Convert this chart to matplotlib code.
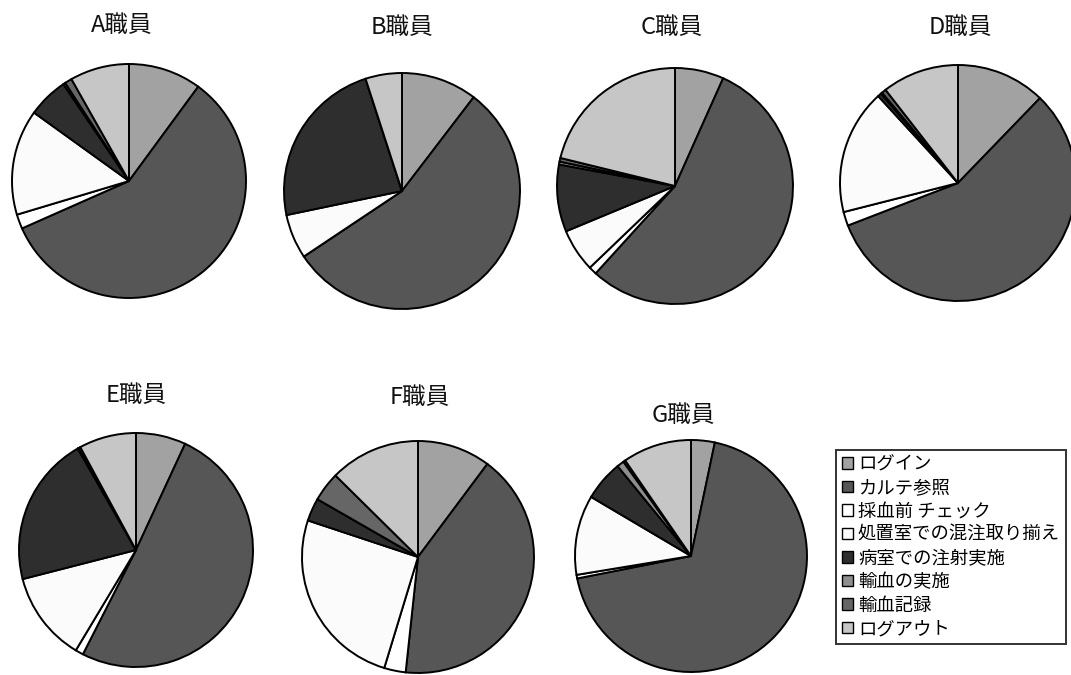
import matplotlib
matplotlib.use("Agg")
import matplotlib.pyplot as plt
from matplotlib.patches import Patch

plt.rcParams['font.family'] = ['Noto Sans CJK JP', 'DejaVu Sans']

# Work steps (legend order = slice order, clockwise from 12 o'clock)
steps = ['ログイン', 'カルテ参照', '採血前 チェック', '処置室での混注取り揃え',
         '病室での注射実施', '輸血の実施', '輸血記録', 'ログアウト']
step_colors = ['#a2a2a2', '#565656', '#ffffff', '#fbfbfb',
               '#2e2e2e', '#8e8e8e', '#666666', '#c6c6c6']

# Share of time (%) per step for each staff member
staff = ['A職員', 'B職員', 'C職員', 'D職員', 'E職員', 'F職員', 'G職員']
share_a = [10.1, 58.4, 2.0, 14.6, 5.6, 0.3, 1.0, 8.2]
share_b = [10.4, 55.3, 0.0, 6.1, 23.3, 0.0, 0.0, 5.0]
share_c = [6.7, 55.1, 1.1, 5.9, 9.2, 0.4, 0.5, 21.2]
share_d = [12.2, 56.8, 1.9, 17.1, 0.5, 0.2, 0.6, 10.5]
share_e = [6.9, 50.6, 1.1, 12.4, 20.7, 0.1, 0.3, 7.9]
share_f = [10.2, 41.5, 3.0, 25.4, 3.2, 0.0, 4.1, 12.6]
share_g = [3.3, 68.6, 0.5, 11.1, 5.6, 1.0, 0.3, 9.6]
shares = [share_a, share_b, share_c, share_d, share_e, share_f, share_g]

W, H = 1071, 675
# pie centre (x, y from top) and radius, in pixels
pie_layout = [((129, 181), 117), ((402, 191), 118), ((675, 186), 118),
              ((958, 183), 118), ((136, 550), 117), ((418, 557), 116),
              ((691, 556), 116)]
title_pos = [(122, 26), (402, 27), (672, 27), (960, 27),
             (136, 396), (420, 397), (683, 415)]

fig = plt.figure(figsize=(W / 100, H / 100), dpi=100)
fig.patch.set_facecolor('white')
ax = fig.add_axes([0, 0, 1, 1])

for vals, ((cx, cy), r), (tx, ty), name in zip(shares, pie_layout, title_pos, staff):
    ax.pie(vals, colors=step_colors, startangle=90, counterclock=False,
           center=(cx, H - cy), radius=r,
           wedgeprops=dict(edgecolor='black', linewidth=1.4))
    ax.text(tx, H - ty, name, ha='center', va='center', fontsize=17, color='#111111')

ax.set_xlim(0, W)
ax.set_ylim(0, H)
ax.set_aspect('equal')
ax.axis('off')

handles = [Patch(facecolor=c, edgecolor='black', linewidth=1.0) for c in step_colors]
leg = fig.legend(handles, steps, loc='upper left',
                 bbox_to_anchor=(836 / W, 1 - 450 / H), borderaxespad=0,
                 fontsize=13.2, frameon=True, fancybox=False, edgecolor='black',
                 handlelength=0.6, handleheight=0.6, handletextpad=0.3,
                 labelspacing=0.3, borderpad=0.3)
leg.get_frame().set_linewidth(1.4)

fig.savefig('out.png', dpi=100, facecolor='white')
